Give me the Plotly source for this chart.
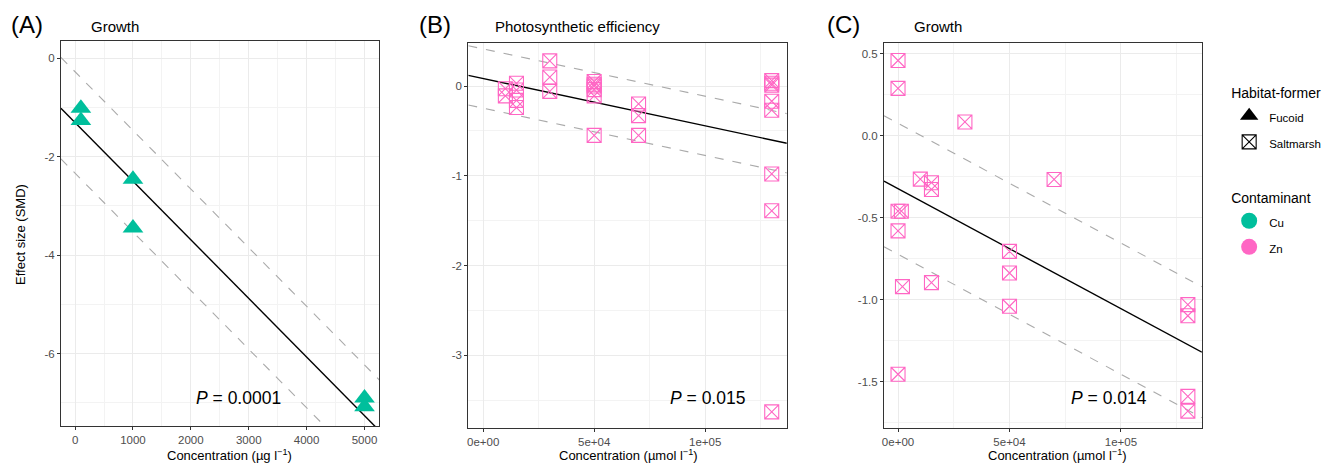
import plotly.graph_objects as go

TEAL = "#00BF9C"
PINK = "#FF66C4"
FONT = "Liberation Sans, Arial, sans-serif"

# ---------------- data ----------------
# Panel A: Cu, Fucoid, growth
a_x = [100, 100, 1000, 1000, 5000, 5000]
a_y = [-1.02, -1.27, -2.46, -3.45, -6.90, -7.08]
a_intercept, a_slope, a_band = -1.31, -0.00119, 1.03
a_p = "0.0001"

# Panel B: Zn, Saltmarsh, photosynthetic efficiency
b_x = [10000, 10000,
       15000, 15000, 15000, 15000,
       30000, 30000, 30000,
       50000, 50000, 50000, 50000, 50000, 50000,
       70000, 70000, 70000,
       130000, 130000, 130000, 130000, 130000, 130000, 130000, 130000]
b_y = [-0.03, -0.11,
       0.03, -0.045, -0.16, -0.24,
       0.28, 0.10, -0.06,
       0.05, 0.02, 0.0, -0.04, -0.11, -0.55,
       -0.20, -0.33, -0.55,
       0.06, 0.03, 0.01, -0.17, -0.27, -0.98, -1.39, -3.63]
b_intercept, b_slope, b_band = 0.083, -5.27e-6, 0.33
b_p = "0.015"

# Panel C: Zn, Saltmarsh, growth
c_x = [0, 0, 0, 1500, 0, 2000, 0,
       10000, 15000, 15000, 15000,
       30000, 50000, 50000, 50000,
       70000, 130000, 130000, 130000, 130000]
c_y = [0.46, 0.29, -0.46, -0.46, -0.58, -0.92, -1.455,
       -0.264, -0.286, -0.327, -0.896,
       0.085, -0.705, -0.837, -1.04,
       -0.266, -1.03, -1.098, -1.59, -1.68]
c_intercept, c_slope, c_band = -0.323, -7.32e-6, 0.40
c_p = "0.014"

a_xticks = [0, 1000, 2000, 3000, 4000, 5000]
a_xtext = ["0", "1000", "2000", "3000", "4000", "5000"]
a_yticks = [0, -2, -4, -6]
a_ytext = ["0", "-2", "-4", "-6"]
bc_xticks = [0, 50000, 100000]
bc_xtext = ["0e+00", "5e+04", "1e+05"]
b_yticks = [0, -1, -2, -3]
b_ytext = ["0", "-1", "-2", "-3"]
c_yticks = [0.5, 0.0, -0.5, -1.0, -1.5]
c_ytext = ["0.5", "0.0", "-0.5", "-1.0", "-1.5"]

panel_labels = ["(A)", "(B)", "(C)"]
panel_titles = ["Growth", "Photosynthetic efficiency", "Growth"]
x_titles = ["Concentration (µg l<sup>−1</sup>)",
            "Concentration (µmol l<sup>−1</sup>)",
            "Concentration (µmol l<sup>−1</sup>)"]
y_title = "Effect size (SMD)"
habitat_names = ["Fucoid", "Saltmarsh"]
contaminant_names = ["Cu", "Zn"]

# ---------------- layout geometry ----------------
W, H = 1336, 463
def px(x): return x / W
def py(y): return 1 - y / H

panels = [
    dict(xd=[px(59), px(378)], yd=[py(426), py(41)], xr=[-245, 5258], yr=[-7.47, 0.345]),
    dict(xd=[px(467), px(786)], yd=[py(428), py(43)], xr=[-6700, 136800], yr=[-3.81, 0.479]),
    dict(xd=[px(883.3), px(1201.7)], yd=[py(428.3), py(43.3)], xr=[-6300, 136300], yr=[-1.785, 0.565]),
]

fig = go.Figure()

def add_fit(xr, b0, b1, band, xa, ya):
    xs = [xr[0], xr[1]]
    for off, col, dash, w in [(band, "#AAAAAA", "dash", 1.1), (-band, "#AAAAAA", "dash", 1.1), (0, "black", "solid", 1.4)]:
        fig.add_trace(go.Scatter(x=xs, y=[b0 + off + b1 * v for v in xs], mode="lines",
                                 line=dict(color=col, dash=dash, width=w),
                                 showlegend=False, hoverinfo="skip", xaxis=xa, yaxis=ya))

add_fit(panels[0]["xr"], a_intercept, a_slope, a_band, "x", "y")
fig.add_trace(go.Scatter(x=a_x, y=a_y, mode="markers", xaxis="x", yaxis="y", showlegend=False,
                         marker=dict(symbol="triangle-up", size=18, color=TEAL, line=dict(width=0))))
add_fit(panels[1]["xr"], b_intercept, b_slope, b_band, "x2", "y2")
fig.add_trace(go.Scatter(x=b_x, y=b_y, mode="markers", xaxis="x2", yaxis="y2", showlegend=False,
                         marker=dict(symbol="square-x-open", size=14, color=PINK, line=dict(width=1.1, color=PINK))))
add_fit(panels[2]["xr"], c_intercept, c_slope, c_band, "x3", "y3")
fig.add_trace(go.Scatter(x=c_x, y=c_y, mode="markers", xaxis="x3", yaxis="y3", showlegend=False,
                         marker=dict(symbol="square-x-open", size=14, color=PINK, line=dict(width=1.1, color=PINK))))

def small(t):
    return '<span style="font-size:11.5px">' + t + '</span>'

# legend entries (two legends, one item per group so the group gap spaces the items)
fig.add_trace(go.Scatter(x=[None], y=[None], mode="markers", name=small(habitat_names[0]), legendgroup="f",
                         legend="legend",
                         marker=dict(symbol="triangle-up", size=18, color="black")))
fig.add_trace(go.Scatter(x=[None], y=[None], mode="markers", name=small(habitat_names[1]), legendgroup="s",
                         legend="legend",
                         marker=dict(symbol="square-x-open", size=14, color="black", line=dict(width=1.1, color="black"))))
fig.add_trace(go.Scatter(x=[None], y=[None], mode="markers", name=small(contaminant_names[0]), legendgroup="cu",
                         legend="legend2",
                         marker=dict(symbol="circle", size=16, color=TEAL)))
fig.add_trace(go.Scatter(x=[None], y=[None], mode="markers", name=small(contaminant_names[1]), legendgroup="zn",
                         legend="legend2",
                         marker=dict(symbol="circle", size=16, color=PINK)))

axis_common = dict(showline=True, mirror=True, linecolor="#333333", linewidth=1,
                   ticks="outside", ticklen=3, tickcolor="#333333", tickwidth=1,
                   tickfont=dict(size=11.5, color="#4D4D4D", family=FONT),
                   showgrid=True, gridcolor="#EBEBEB", gridwidth=1, zeroline=False,
                   tickmode="array")

def minor_vals(ticks, lo, hi):
    step = abs(ticks[1] - ticks[0])
    start = min(ticks) - step / 2
    vals = []
    v = start
    while v <= hi:
        if v >= lo:
            vals.append(v)
        v += step
    return vals

xt = [(a_xticks, a_xtext), (bc_xticks, bc_xtext), (bc_xticks, bc_xtext)]
yt = [(a_yticks, a_ytext), (b_yticks, b_ytext), (c_yticks, c_ytext)]
layout = {}
for i, p in enumerate(panels):
    sx = "" if i == 0 else str(i + 1)
    xmin = dict(tickmode="array", tickvals=minor_vals(xt[i][0], p["xr"][0], p["xr"][1]),
                showgrid=True, gridcolor="#F3F3F3", gridwidth=0.6, ticks="")
    ymin = dict(tickmode="array", tickvals=minor_vals(sorted(yt[i][0]), p["yr"][0], p["yr"][1]),
                showgrid=True, gridcolor="#F3F3F3", gridwidth=0.6, ticks="")
    layout["xaxis" + sx] = dict(axis_common, domain=p["xd"], range=p["xr"], anchor="y" + sx,
                                tickvals=xt[i][0], ticktext=xt[i][1], minor=xmin)
    layout["yaxis" + sx] = dict(axis_common, domain=p["yd"], range=p["yr"], anchor="x" + sx,
                                tickvals=yt[i][0], ticktext=yt[i][1], minor=ymin)

fig.update_layout(**layout)

ann = []
label_x = [7, 416, 824]
title_x = [87, 492, 911]
xtitle_cx = [228, 627, 1057]
p_cx = [237, 707, 1109]
p_vals = [a_p, b_p, c_p]
for i in range(3):
    ann.append(dict(text=panel_labels[i], x=px(label_x[i]), y=py(25), xref="paper", yref="paper",
                    xanchor="left", yanchor="middle", showarrow=False,
                    font=dict(size=24, color="black", family=FONT)))
    ann.append(dict(text=panel_titles[i], x=px(title_x[i]), y=py(26), xref="paper", yref="paper",
                    xanchor="left", yanchor="middle", showarrow=False,
                    font=dict(size=15, color="black", family=FONT)))
    ann.append(dict(text=x_titles[i], x=px(xtitle_cx[i]), y=py(455), xref="paper", yref="paper",
                    xanchor="center", yanchor="middle", showarrow=False,
                    font=dict(size=13, color="black", family=FONT)))
    ann.append(dict(text="<i>P</i> = " + p_vals[i], x=px(p_cx[i]), y=py(398), xref="paper", yref="paper",
                    xanchor="center", yanchor="middle", showarrow=False,
                    font=dict(size=17.5, color="black", family=FONT)))
ann.append(dict(text=y_title, x=px(18), y=py(234), xref="paper", yref="paper", textangle=-90,
                xanchor="center", yanchor="middle", showarrow=False,
                font=dict(size=13, color="black", family=FONT)))

leg_common = dict(xanchor="left", yanchor="top",
                  font=dict(size=17, color="black", family=FONT),
                  tracegroupgap=1, bgcolor="rgba(0,0,0,0)")
fig.update_layout(
    width=W, height=H, margin=dict(l=0, r=0, t=0, b=0),
    paper_bgcolor="white", plot_bgcolor="white",
    font=dict(family=FONT, color="black"),
    annotations=ann,
    legend=dict(leg_common, x=px(1229), y=py(80),
                title=dict(text="Habitat-former", font=dict(size=14, color="black", family=FONT))),
    legend2=dict(leg_common, x=px(1229), y=py(185),
                 title=dict(text="Contaminant", font=dict(size=14, color="black", family=FONT))),
)

fig.write_html("out.html")
